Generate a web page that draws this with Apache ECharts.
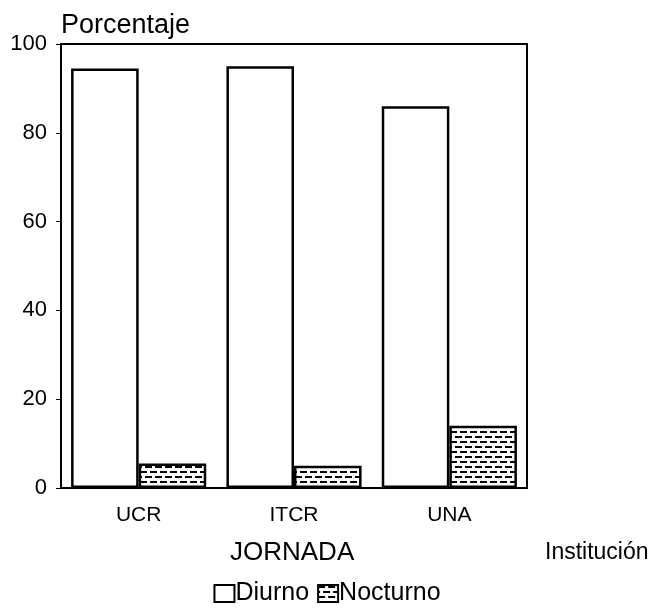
<!DOCTYPE html>
<html><head><meta charset="utf-8">
<script src="https://cdn.jsdelivr.net/npm/echarts@6/dist/echarts.min.js"></script>
<style>html,body{margin:0;padding:0;background:#fff}#c{width:654px;height:609px}</style>
</head><body><div id="c"></div>
<script>
const categories = ['UCR', 'ITCR', 'UNA'];
const diurno = [94.5, 95, 86];
const nocturno = [5.5, 5, 14];
const yTicks = [0, 20, 40, 60, 80, 100];

function brick() {
  const c = document.createElement('canvas');
  c.width = 10; c.height = 10;
  const g = c.getContext('2d');
  g.fillStyle = '#fff'; g.fillRect(0, 0, 10, 10);
  g.fillStyle = '#000';
  g.fillRect(0, 1, 7, 2);
  g.fillRect(5, 6, 5, 2);
  g.fillRect(0, 6, 2, 2);
  return c;
}
const FONT = '"Liberation Sans", Arial, Helvetica, sans-serif';
const chart = echarts.init(document.getElementById('c'));
chart.setOption({
  animation: false,
  textStyle: { fontFamily: FONT, color: '#000' },
  title: [
    { text: 'Porcentaje', left: 61, top: 12, padding: 0, textStyle: { fontFamily: FONT, fontSize: 27, fontWeight: 'normal', color: '#000' } },
    { text: 'JORNADA', left: 230, top: 540, padding: 0, textStyle: { fontFamily: FONT, fontSize: 26, fontWeight: 'normal', color: '#000' } },
    { text: 'Institución', left: 545, top: 541, padding: 0, textStyle: { fontFamily: FONT, fontSize: 23, fontWeight: 'normal', color: '#000' } }
  ],
  grid: { left: 61, right: 127, top: 44, bottom: 121, show: true, borderColor: '#000', borderWidth: 2, backgroundColor: 'transparent' },
  legend: {
    top: 576, left: 'center', itemGap: 8, itemWidth: 20, itemHeight: 17, icon: 'rect',
    textStyle: { fontFamily: FONT, fontSize: 25, color: '#000', padding: [0, 0, 0, -4] },
    data: ['Diurno', 'Nocturno']
  },
  xAxis: {
    type: 'category', data: categories,
    axisLine: { lineStyle: { color: '#000', width: 2 } },
    axisTick: { alignWithLabel: true, length: 5, lineStyle: { color: '#000' } },
    axisLabel: { fontSize: 21, color: '#000', margin: 17, fontFamily: FONT }
  },
  yAxis: {
    type: 'value', min: 0, max: 100, interval: 20,
    axisLine: { show: true, lineStyle: { color: '#000', width: 2 } },
    axisTick: { show: true, length: 5, lineStyle: { color: '#000' } },
    splitLine: { show: false },
    axisLabel: { fontSize: 22, color: '#000', margin: 14, fontFamily: FONT,
      formatter: v => yTicks.includes(v) ? String(v) : '' }
  },
  series: [
    { name: 'Diurno', type: 'bar', data: diurno, barGap: '0%', barCategoryGap: '13%',
      itemStyle: { color: '#fff', borderColor: '#000', borderWidth: 2.5 } },
    { name: 'Nocturno', type: 'bar', data: nocturno,
      itemStyle: { color: { image: brick(), repeat: 'repeat' }, borderColor: '#000', borderWidth: 2.5 } }
  ]
});
</script></body></html>
